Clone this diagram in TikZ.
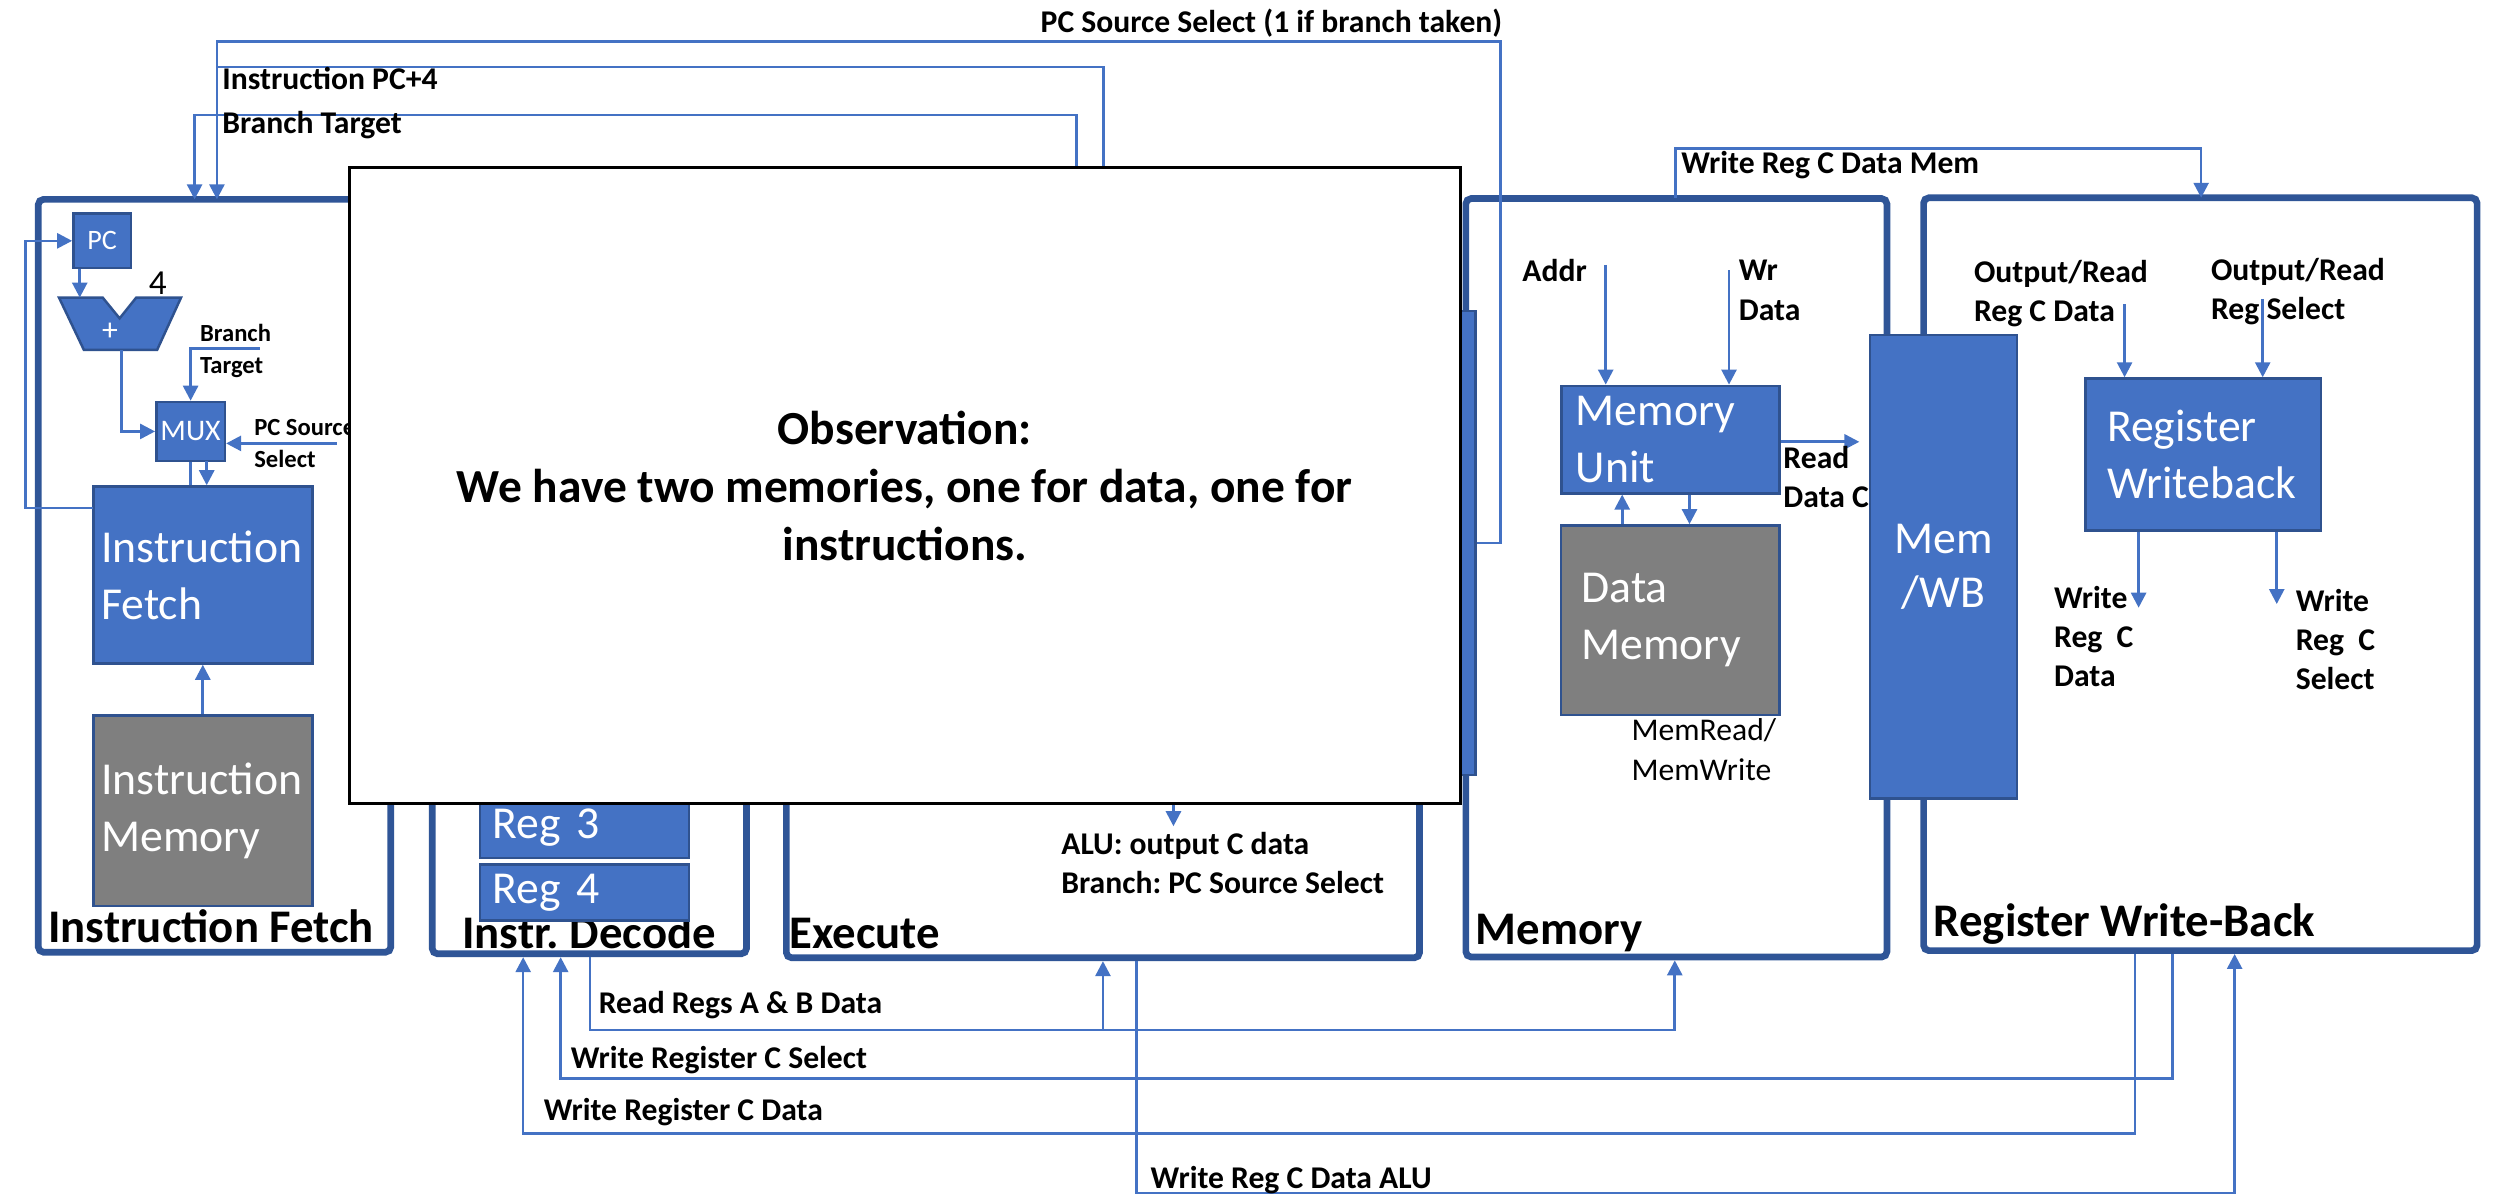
\documentclass[tikz,border=0pt]{standalone}
\usepackage{fontspec}
\setmainfont{Carlito}
\frenchspacing
\usepackage{tikz}
\usetikzlibrary{positioning, arrows.meta, calc}
\definecolor{stageBlue}{HTML}{2F5597}
\definecolor{unitBlue}{HTML}{4472C4}
\definecolor{unitEdge}{HTML}{2F528F}
\definecolor{memGray}{HTML}{7F7F7F}
\definecolor{wireBlue}{HTML}{4472C4}
\newcommand*{\pxu}{0.01595cm}
\tikzset{
  sz/.style 2 args={minimum width=#1*\pxu, minimum height=#2*\pxu, inner sep=0pt},
  blk/.style n args={3}{minimum width=#1*\pxu, minimum height=#2*\pxu, inner ysep=0pt,
    inner xsep=#3*\pxu, text width=(#1-2*#3)*\pxu},
  stagebox/.style={draw=stageBlue, line width=1.9pt, rounded corners=1.5pt},
  unitbox/.style={draw=unitEdge, line width=0.7pt, fill=unitBlue, text=white, align=left,
    font=\fontsize{13}{16.2}\selectfont},
  memorybox/.style={unitbox, fill=memGray},
  pipereg/.style={draw=unitEdge, line width=0.7pt, fill=unitBlue},
  wire/.style={draw=wireBlue, line width=0.75pt},
  sig/.style={wire, ->},
  lbl/.style={font=\bfseries\fontsize{9}{11.2}\selectfont, inner sep=0pt, align=left},
  tinylbl/.style={font=\bfseries\fontsize{7}{9}\selectfont, inner sep=0pt, align=left},
  stagelbl/.style={font=\bfseries\fontsize{13.3}{16}\selectfont, inner sep=0pt, anchor=base west},
}

\begin{document}
\begin{tikzpicture}[>={Triangle[length=1.5mm, width=1.5mm]}, x=0.01595cm, y=-0.01595cm]
  \useasboundingbox (0,0) rectangle (1568,749);
  \fill[white] (0,0) rectangle (1568,749);

  \node[stagebox, sz={221}{472}] (ifst) at (134.5,361) {};
  \node[stagebox, sz={197}{473}] (idst) at (369.5,361.5) {};
  \node[stagebox, sz={397}{475.5}] (exst) at (691.5,362.75) {};
  \node[stagebox, sz={264}{475.5}] (memst) at (1051,362.25) {};
  \node[stagebox, sz={347}{472}] (wbst) at (1379.5,360) {};

  \node[stagelbl] (ifname) at ([shift={(8,-8)}]ifst.south west) {Instruction Fetch};
  \node[stagelbl] (idname) at ([shift={(20.5,-5.5)}]idst.south west) {Instr. Decode};
  \node[stagelbl] (exname) at ([shift={(3.5,-8)}]exst.south west) {Execute};
  \node[stagelbl] (memname) at ([shift={(8,-10)}]memst.south west) {Memory};
  \node[stagelbl] (wbname) at ([shift={(8,-11)}]wbst.south west) {Register Write-Back};

  \node[unitbox, sz={36}{34}, font=\fontsize{8}{9}\selectfont] (pc) at (64,151) {PC};
  \draw[pipereg] (37,186.6) -- (64.4,186.6) -- (75,199.6) -- (85.4,186.6) -- (113.5,186.6)
    -- (98.5,219.4) -- (52.6,219.4) -- cycle;
  \node[text=white, font=\fontsize{9}{10}\selectfont, inner sep=0pt] (addsum) at (69,208) {+};
  \node[font=\fontsize{10}{12}\selectfont, inner sep=0pt] (four) at (99,177.5) {4};
  \coordinate (addin) at (50,186.6);
  \coordinate (addout) at (76,219.4);
  \node[unitbox, sz={43}{37}, font=\fontsize{8.5}{10}\selectfont] (mux) at (119.5,270.5) {MUX};
  \node[unitbox, blk={137.3}{111}{5}] (ifblk) at (127.15,360.5) {Instruction\\Fetch\\[-6pt]};
  \node[memorybox, blk={137.3}{119.4}{5}] (imem) at (127.15,508.3) {Instruction\\Memory};

  \node[unitbox, blk={131}{38}{8}] (reg3) at (366.5,519) {Reg 3};
  \node[unitbox, blk={131}{35}{8}, below=1.1pt of reg3] (reg4) {Reg 4\\[-5pt]};

  \node[pipereg, sz={9}{291}] (exmem) at (920.5,340.5) {};
  \node[unitbox, blk={136.6}{67.4}{9}] (memunit) at (1047.3,275.6) {Memory\\Unit};
  \node[memorybox, blk={137.2}{118.9}{13}] (datamem) at (1047.1,388.85) {Data\\Memory};
  \node[pipereg, sz={92}{290.5}, text=white, align=center, font=\fontsize{13}{15.5}\selectfont]
    (memwb) at (1218.45,355.25) {Mem\\/WB};
  \node[unitbox, blk={147.8}{95.2}{13.5}] (regwb) at (1381.4,284.9) {Register\\Writeback};

  \coordinate (fbk) at (58.5,318.5);
  \coordinate (fbl) at (16,318.5);
  \coordinate (btin) at (163,218.4);
  \coordinate (psin) at (211,278);
  \coordinate (muxo) at (129.6,289);
  \draw[sig] (pc.south -| addin) -- (addin);
  \draw[sig] (addout) |- (mux.west);
  \draw[sig] (btin) -| (mux.north);
  \draw[sig] (psin) -- (psin -| mux.east);
  \draw[wire] (mux.south) -- (mux.south |- ifblk.north);
  \draw[sig] (muxo) -- (muxo |- ifblk.north);
  \draw[sig] (fbk) -- (fbl) |- (pc.west);
  \draw[sig] (imem.north) -- (ifblk.south);

  \coordinate (pcs) at (940.7,340.5);
  \coordinate (pcsTop) at (940.7,26);
  \coordinate (ifinA) at (136,125);
  \coordinate (ifinB) at (122,125);
  \coordinate (pc4) at (692,105);
  \coordinate (pc4end) at (136,42);
  \coordinate (btsrc) at (675,105);
  \draw[sig] (exmem.east) -- (pcs) -- (pcsTop) -| (ifinA);
  \draw[wire] (pc4) -- ++(0,-63) -- (pc4end);
  \draw[sig] (btsrc) -- ++(0,-33) -| (ifinB);

  \coordinate (aluo) at (735.7,504);
  \coordinate (aluend) at (735.7,518);
  \draw[sig] (aluo) -- (aluend);

  \coordinate (addrin) at (1006.7,166);
  \coordinate (wrin) at (1084,169.3);
  \coordinate (dmup) at ($(datamem.north west)+(39.3,0)$);
  \coordinate (mudn) at ($(memunit.south west)+(81,0)$);
  \coordinate (rdcEnd) at (1165.7,277);
  \coordinate (wmsrc) at (1050.6,124.3);
  \coordinate (wbin) at (1380,124);
  \draw[sig] (addrin) -- (addrin |- memunit.north);
  \draw[sig] (wrin) -- (wrin |- memunit.north);
  \draw[sig] (dmup) -- (dmup |- memunit.south);
  \draw[sig] (mudn) -- (mudn |- datamem.north);
  \draw[sig] (memunit.east |- rdcEnd) -- (rdcEnd);
  \draw[sig] (wmsrc) -- ++(0,-31.3) -| (wbin);

  \coordinate (ordIn) at (1332,190.8);
  \coordinate (orsIn) at (1418.6,187.4);
  \coordinate (wcdOut) at (1340.8,381);
  \coordinate (wcsOut) at (1427.4,378.7);
  \draw[sig] (ordIn) -- (ordIn |- regwb.north);
  \draw[sig] (orsIn) -- (orsIn |- regwb.north);
  \draw[sig] (regwb.south -| wcdOut) -- (wcdOut);
  \draw[sig] (regwb.south -| wcsOut) -- (wcsOut);

  \coordinate (rr) at (370,645.8);
  \coordinate (wcs) at (351.5,676);
  \coordinate (wcd) at (328,710.6);
  \coordinate (alub) at (712.6,748);
  \draw[sig] (idst.south -| rr) -- (rr) -| (memst.south -| 1050,0);
  \draw[sig] (rr -| exst.south) -- (exst.south);
  \draw[sig] (wbst.south -| 1362,0) |- (wcs) -- (idst.south -| wcs);
  \draw[sig] (wbst.south -| 1338.6,0) |- (wcd) -- (idst.south -| wcd);
  \draw[sig] (exst.south -| alub) -- (alub) -| (wbst.south -| 1401,0);

  \node[lbl, anchor=west] (pcslbl) at (652,14.6) {PC Source Select (1 if branch taken)};
  \node[lbl, anchor=west] (pc4lbl) at (139,49) {Instruction PC+4};
  \node[lbl, anchor=west] (btlbl) at (139,78.4) {Branch Target};
  \node[tinylbl, anchor=west] (btsmall) at (125,220) {Branch\\Target};
  \node[tinylbl, anchor=west] (pssmall) at (159,278) {PC Source\\Select};
  \node[lbl, anchor=base west] (alulbl) at (665,536) {ALU: output C data};
  \node[lbl, anchor=base west] (brlbl) at (665,560) {Branch: PC Source Select};
  \node[lbl, anchor=base west] (addrlbl) at (954,176.6) {Addr};
  \node[lbl, anchor=west] (wrlbl) at (1089.7,182) {Wr\\Data};
  \node[lbl, anchor=west] (rdlbl) at (1117.7,299) {Read\\Data C};
  \node[anchor=west, inner sep=0pt, align=left, font=\fontsize{9}{11.2}\selectfont]
    (mrwlbl) at (1022.5,470) {MemRead/\\MemWrite};
  \node[lbl, anchor=base west] (wmlbl) at (1053.7,108.7) {Write Reg C Data Mem};
  \node[lbl, anchor=west] (ordlbl) at (1237.2,184) {Output/Read\\Reg C Data};
  \node[lbl, anchor=west] (orslbl) at (1385.8,183) {Output/Read\\Reg Select};
  \node[lbl, anchor=west] (wcdlbl) at (1287.4,399) {Write\\Reg\ \ C\\Data};
  \node[lbl, anchor=west] (wcslbl) at (1438.9,401) {Write\\Reg\ \ C\\Select};
  \node[lbl, anchor=west] (rrlbl) at (375,630) {Read Regs A \& B Data};
  \node[lbl, anchor=west] (wrslbl) at (357.4,664.6) {Write Register C Select};
  \node[lbl, anchor=west] (wrdlbl) at (340.5,697) {Write Register C Data};
  \node[lbl, anchor=west] (walulbl) at (721,740) {Write Reg C Data ALU};

  \node[draw=black, line width=0.9pt, fill=white, sz={696.5}{398.8}, align=center,
    font=\bfseries\fontsize{13.5}{16.5}\selectfont] (obs) at (567.25,304.4)
    {Observation:\\We have two memories, one for data, one for\\instructions.};
\end{tikzpicture}
\end{document}
